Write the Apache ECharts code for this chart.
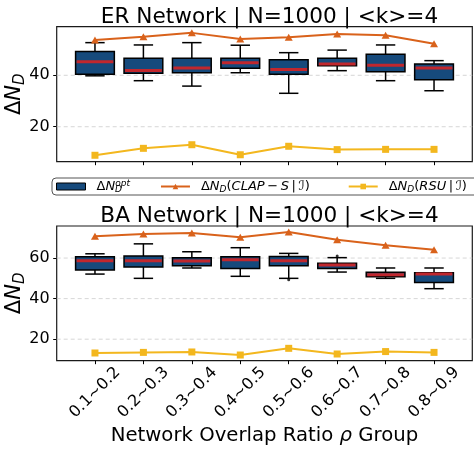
<!DOCTYPE html>
<html>
<head>
<meta charset="utf-8">
<script src="https://cdn.jsdelivr.net/npm/echarts@6/dist/echarts.min.js"></script>
<style>
  html, body { margin: 0; padding: 0; background: #ffffff; }
  #chart { width: 474px; height: 454px; }
</style>
</head>
<body>
<div id="chart"></div>
<script>
// Overlap-ratio groups (x positions 0..7)
const groups = ['0.1~0.2', '0.2~0.3', '0.3~0.4', '0.4~0.5', '0.5~0.6', '0.6~0.7', '0.7~0.8', '0.8~0.9'];
const groupPos = [0, 1, 2, 3, 4, 5, 6, 7];

// ER network: box statistics of ΔN_D^opt
const erMin = [39.8, 37.9, 35.8, 41.0, 33.0, 41.8, 37.9, 34.0];
const erQ1  = [40.4, 40.8, 41.0, 42.7, 40.4, 43.7, 41.4, 38.3];
const erMed = [45.3, 41.9, 42.8, 44.9, 42.3, 44.4, 43.9, 42.8];
const erQ3  = [49.3, 46.6, 46.6, 46.6, 46.0, 46.6, 48.2, 44.4];
const erMax = [52.7, 51.8, 52.7, 51.7, 48.8, 49.8, 51.8, 45.7];
// ER network: comparison methods
const erClap = [53.7, 55.0, 56.5, 54.1, 54.8, 56.1, 55.6, 52.3];
const erRsu  = [8.9, 11.6, 13.0, 9.1, 12.4, 11.1, 11.2, 11.2];

// BA network: box statistics of ΔN_D^opt
const baMin = [52.1, 50.0, 55.1, 51.0, 50.0, 53.1, 50.0, 44.9];
const baQ1  = [54.1, 55.6, 56.2, 54.9, 56.2, 54.9, 50.8, 48.0];
const baMed = [58.7, 58.7, 58.5, 59.2, 58.7, 56.6, 51.8, 52.1];
const baQ3  = [60.6, 61.0, 60.2, 60.6, 60.8, 57.4, 53.0, 52.8];
const baMax = [62.1, 67.0, 63.1, 65.1, 62.3, 60.2, 55.1, 55.1];
// BA network: outliers
const baOutX = [4, 5];
const baOutY = [49.3, 61.0];
// BA network: comparison methods
const baClap = [70.7, 71.8, 72.3, 70.3, 72.8, 69.0, 66.3, 64.1];
const baRsu  = [13.2, 13.5, 13.7, 12.2, 15.5, 12.7, 13.9, 13.5];

// Axis ticks
const erYTicks = [20, 40];
const baYTicks = [20, 40, 60];
const erYRange = [6.4, 58.9];
const baYRange = [9.4, 75.8];
const xRange = [-0.79, 7.79];

const FONT = 'DejaVu Sans';
const BOX_FILL = '#164a7c';
const MEDIAN = '#c1272d';
const ORANGE = '#d9621b';
const YELLOW = '#f3b71e';
const BOX_W = 0.8;

const boxRows = (lo, q1, md, q3, hi) => groupPos.map((x, i) => [x, lo[i], q1[i], md[i], q3[i], hi[i]]);
const pts = (vals) => groupPos.map((x, i) => [x, vals[i]]);

function renderBox(params, api) {
  const x = api.value(0);
  const pLo = api.coord([x, api.value(1)]);
  const pQ1 = api.coord([x, api.value(2)]);
  const pMd = api.coord([x, api.value(3)]);
  const pQ3 = api.coord([x, api.value(4)]);
  const pHi = api.coord([x, api.value(5)]);
  const half = api.size([BOX_W / 2, 0])[0];
  const cap = half / 2;
  const ink = { stroke: '#000', lineWidth: 1.5 };
  const seg = (x1, y1, x2, y2, style) => ({ type: 'line', shape: { x1, y1, x2, y2 }, style });
  return {
    type: 'group',
    children: [
      seg(pLo[0], pLo[1], pQ1[0], pQ1[1], ink),
      seg(pHi[0], pHi[1], pQ3[0], pQ3[1], ink),
      seg(pLo[0] - cap, pLo[1], pLo[0] + cap, pLo[1], ink),
      seg(pHi[0] - cap, pHi[1], pHi[0] + cap, pHi[1], ink),
      {
        type: 'rect',
        shape: { x: pQ3[0] - half, y: pQ3[1], width: half * 2, height: pQ1[1] - pQ3[1] },
        style: { fill: BOX_FILL, stroke: '#000', lineWidth: 1.5 }
      },
      seg(pMd[0] - half + 1, pMd[1], pMd[0] + half - 1, pMd[1], { stroke: MEDIAN, lineWidth: 3 })
    ]
  };
}

// Horizontal dashed grid line across the plot at a y tick value
function renderGridLine(params, api) {
  const cs = params.coordSys;
  const y = api.coord([api.value(0), api.value(1)])[1];
  return {
    type: 'line',
    shape: { x1: cs.x, y1: y, x2: cs.x + cs.width, y2: y },
    style: { stroke: '#cccccc', lineWidth: 0.8, lineDash: [4, 3] }
  };
}

const mathRich = (size, lh) => {
  const s = Math.round(size * 0.7);
  return {
    t: { fontFamily: FONT, fontSize: size, lineHeight: lh, color: '#000' },
    i: { fontFamily: FONT, fontSize: size, lineHeight: lh, fontStyle: 'italic', color: '#000' },
    sb: { fontFamily: FONT, fontSize: s, lineHeight: s, fontStyle: 'italic', color: '#000', verticalAlign: 'bottom' },
    sbz: { fontFamily: FONT, fontSize: s, lineHeight: s, fontStyle: 'italic', color: '#000', verticalAlign: 'bottom', width: 0.1 },
    sp: { fontFamily: FONT, fontSize: s, lineHeight: s, fontStyle: 'italic', color: '#000', verticalAlign: 'top' },
    gap: { width: 6, lineHeight: lh },
    tail: { width: 8, lineHeight: lh }
  };
};

const NAME_OPT = 'ΔN_D^opt';
const NAME_CLAP = 'ΔN_D(CLAP−S|I)';
const NAME_RSU = 'ΔN_D(RSU|I)';
const legendText = {};
legendText[NAME_OPT] = '{gap|}{t|Δ}{i|N}{sbz|D}{sp|opt}';
legendText[NAME_CLAP] = '{gap|}{t|Δ}{i|N}{sb|D}{t|(}{i|CLAP}{t|\u2009−\u2009}{i|S}{t|\u2009|\u2009ℐ)}{tail|}';
legendText[NAME_RSU] = '{gap|}{t|Δ}{i|N}{sb|D}{t|(}{i|RSU}{t|\u2009|\u2009ℐ)}{tail|}';

const yName = '{t|Δ}{i|N}{sb|D}';

function xAxisFor(gridIndex, showLabels) {
  return {
    type: 'value', gridIndex, min: xRange[0], max: xRange[1],
    axisLine: { show: false, onZero: false },
    splitLine: { show: false },
    axisTick: { show: true, customValues: groupPos, length: 3.5, lineStyle: { color: '#000', width: 1 } },
    axisLabel: {
      show: showLabels, customValues: groupPos,
      formatter: (v) => groups[Math.round(v)],
      rotate: 45, align: 'center', verticalAlign: 'middle', margin: 32,
      fontFamily: FONT, fontSize: 16, color: '#000'
    },
    name: showLabels ? '{t|Network Overlap Ratio }{i|ρ}{t| Group}' : '',
    nameLocation: 'middle', nameGap: 64, nameMoveOverlap: false,
    nameTextStyle: { rich: mathRich(19.7, 22) }
  };
}

function yAxisFor(gridIndex, range, ticks) {
  return {
    type: 'value', gridIndex, min: range[0], max: range[1],
    axisLine: { show: false, onZero: false },
    axisTick: { show: true, customValues: ticks, length: 3.5, lineStyle: { color: '#000', width: 1 } },
    axisLabel: { customValues: ticks, margin: 7, fontFamily: FONT, fontSize: 16, color: '#000' },
    splitLine: { show: false },
    name: yName, nameLocation: 'middle', nameRotate: 90, nameGap: 29, nameMoveOverlap: false,
    nameTextStyle: { rich: mathRich(21, 26) }
  };
}

function lineSeries(name, data, xi, color, symbol, size) {
  return {
    type: 'line', name, data, xAxisIndex: xi, yAxisIndex: xi,
    symbol, symbolSize: size, showSymbol: true, z: 4,
    itemStyle: { color },
    lineStyle: { color, width: 2 },
    emphasis: { disabled: true }
  };
}

function gridLineSeries(xi, ticks) {
  return {
    type: 'custom', xAxisIndex: xi, yAxisIndex: xi, renderItem: renderGridLine,
    data: ticks.map((v) => [xRange[0], v]), encode: { x: 0, y: 1 },
    silent: true, z: 1
  };
}

const chart = echarts.init(document.getElementById('chart'), null, { renderer: 'canvas' });
chart.setOption({
  animation: false,
  backgroundColor: '#ffffff',
  title: [
    { text: 'ER Network | N=1000 | <k>=4', left: 264.5, top: 1, textAlign: 'center',
      textStyle: { fontFamily: FONT, fontSize: 21.6, fontWeight: 'normal', color: '#000' } },
    { text: 'BA Network | N=1000 | <k>=4', left: 264.5, top: 200, textAlign: 'center',
      textStyle: { fontFamily: FONT, fontSize: 21.6, fontWeight: 'normal', color: '#000' } }
  ],
  legend: {
    left: 52, top: 178, width: 470, orient: 'horizontal',
    itemWidth: 29, itemHeight: 7, itemGap: 30,
    padding: [1, 4, 1, 4],
    borderColor: '#555', borderWidth: 1, borderRadius: 4,
    backgroundColor: '#fff',
    selectedMode: false,
    data: [
      { name: NAME_OPT, icon: 'rect', itemStyle: { color: BOX_FILL, borderColor: '#000', borderWidth: 1 } },
      { name: NAME_CLAP },
      { name: NAME_RSU }
    ],
    formatter: (n) => legendText[n],
    textStyle: { rich: mathRich(13, 15) }
  },
  grid: [
    { left: 56.7, top: 26.7, width: 415.6, height: 135, outerBoundsMode: 'none', containLabel: false,
      show: true, borderColor: '#1a1a1a', borderWidth: 1.2, backgroundColor: 'transparent' },
    { left: 56.7, top: 226, width: 415.6, height: 134.7, outerBoundsMode: 'none', containLabel: false,
      show: true, borderColor: '#1a1a1a', borderWidth: 1.2, backgroundColor: 'transparent' }
  ],
  xAxis: [xAxisFor(0, false), xAxisFor(1, true)],
  yAxis: [yAxisFor(0, erYRange, erYTicks), yAxisFor(1, baYRange, baYTicks)],
  series: [
    gridLineSeries(0, erYTicks),
    gridLineSeries(1, baYTicks),
    { type: 'custom', name: NAME_OPT, xAxisIndex: 0, yAxisIndex: 0, renderItem: renderBox,
      data: boxRows(erMin, erQ1, erMed, erQ3, erMax), encode: { x: 0, y: [1, 2, 3, 4, 5] },
      itemStyle: { color: BOX_FILL }, z: 3 },
    lineSeries(NAME_CLAP, pts(erClap), 0, ORANGE, 'triangle', [8, 7]),
    lineSeries(NAME_RSU, pts(erRsu), 0, YELLOW, 'rect', 7),
    { type: 'custom', name: NAME_OPT, xAxisIndex: 1, yAxisIndex: 1, renderItem: renderBox,
      data: boxRows(baMin, baQ1, baMed, baQ3, baMax), encode: { x: 0, y: [1, 2, 3, 4, 5] },
      itemStyle: { color: BOX_FILL }, z: 3 },
    { type: 'scatter', name: 'outliers', xAxisIndex: 1, yAxisIndex: 1, symbol: 'circle', symbolSize: 3,
      itemStyle: { color: '#000' }, data: baOutX.map((x, i) => [x, baOutY[i]]), z: 3 },
    lineSeries(NAME_CLAP, pts(baClap), 1, ORANGE, 'triangle', [8, 7]),
    lineSeries(NAME_RSU, pts(baRsu), 1, YELLOW, 'rect', 7)
  ]
});
</script>
</body>
</html>
